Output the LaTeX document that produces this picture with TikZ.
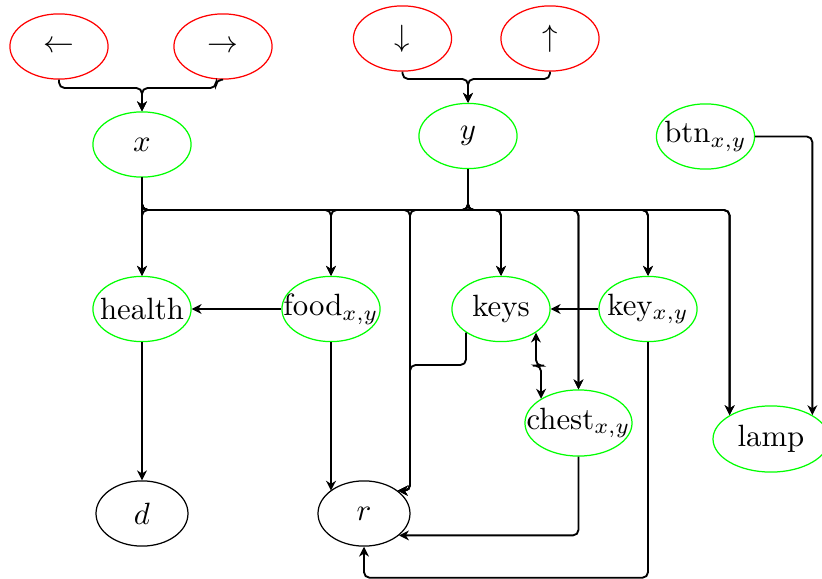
\documentclass[tikz,border=0pt]{standalone}
\usetikzlibrary{arrows.meta,calc,shapes.geometric}
% node text is centred in a zero-width box so that the ellipse size
% is set only by minimum width/height
\newcommand\nbox[1]{\makebox[0pt]{#1}}
\tikzset{
  ctl/.style={ellipse, draw=red, thin, inner sep=0pt,
              minimum width=31.9pt, minimum height=21.2pt},
  var/.style={ellipse, draw=green, thin, inner sep=0pt,
              minimum width=31.9pt, minimum height=21.2pt},
  obs/.style={ellipse, draw=black, thin, inner sep=0pt,
              minimum width=29.9pt, minimum height=21.2pt},
  tip/.tip={Stealth[length=3.2pt,width=3.2pt,inset=1pt]},
  arr/.style={draw, semithick, rounded corners=1.8pt, -tip},
  dbl/.style={draw, semithick, rounded corners=1.8pt, tip-tip},
}
\begin{document}
\begin{tikzpicture}[x=0.325pt, y=-0.325pt]
\useasboundingbox (0,0) rectangle (822,579);

% action inputs
\node[ctl] (lt) at (59,46.5)   {\nbox{$\leftarrow$}};
\node[ctl] (rt) at (223,46.5)  {\nbox{$\rightarrow$}};
\node[ctl] (dn) at (402.5,38.5){\nbox{$\downarrow$}};
\node[ctl] (up) at (550,38.5)  {\nbox{$\uparrow$}};

% state variables
\node[var] (x)      at (142,144.5)  {\nbox{$x$}};
\node[var] (y)      at (468,136)    {\nbox{$y$}};
\node[var] (btn)    at (705.5,136.5){\nbox{btn$_{x,y}$}};
\node[var] (health) at (142,309)    {\nbox{health}};
\node[var] (food)   at (331,309)    {\nbox{food$_{x,y}$}};
\node[var] (keys)   at (501,309)    {\nbox{keys}};
\node[var] (key)    at (648,309)    {\nbox{key$_{x,y}$}};
\node[var, minimum width=34.8pt, minimum height=21.5pt] (chest) at (578.5,423) {\nbox{chest$_{x,y}$}};
\node[var, minimum width=37.7pt, minimum height=21.5pt] (lamp)  at (771,439)   {\nbox{lamp}};

% outputs
\node[obs] (d) at (142,513.5) {\nbox{$d$}};
\node[obs] (r) at (364,513.5) {\nbox{$r$}};

% helper rails
\coordinate (b1)    at (0,88);
\coordinate (b2)    at (0,79);
\coordinate (bus)   at (0,210);
\coordinate (rbus)  at (410,210);
\coordinate (rjoin) at (410,365);

% actions to position
\draw[arr] (lt.south) |- (x.north |- b1) -- (x.north);
\draw[arr] (rt.south) -- ++(-7,0) |- (x.north |- b1) -- (x.north);
\draw[arr] (dn.south) |- (y.north |- b2) -- (y.north);
\draw[arr] (up.south) |- (y.north |- b2) -- (y.north);

% position feeds every cell-dependent variable
\foreach \s in {x,y} {
  \draw[arr] (\s.south) |- (health.north |- bus) -- (health.north);
  \draw[arr] (\s.south) |- (food.north |- bus) -- (food.north);
  \draw[arr] (\s.south) |- (keys.north |- bus) -- (keys.north);
  \draw[arr] (\s.south) |- (chest.north |- bus) -- (chest.north);
  \draw[arr] (\s.south) |- (key.north |- bus) -- (key.north);
  \draw[arr] (\s.south) |- (lamp.150 |- bus) -- (lamp.150);
  \draw[arr] (\s.south) |- (rbus) |- (r.34);
}

% remaining dependencies
\draw[arr] (food) -- (health);
\draw[arr] (key) -- (keys);
\draw[arr] (health) -- (d);
\draw[arr] (food.south) -- (food.south |- r.146);
\draw[arr] (keys.214) |- (rjoin) |- (r.34);
\draw[dbl] (keys.-34) |- ($(keys.-34)!0.5!(chest.147)$) -| (chest.147);
\draw[arr] (chest.south) |- (r.-32);
\draw[arr] (key.south) |- ($(r.south)+(0,31)$) -- (r.south);
\draw[arr] (btn.east) -| (lamp.30);
\end{tikzpicture}
\end{document}
